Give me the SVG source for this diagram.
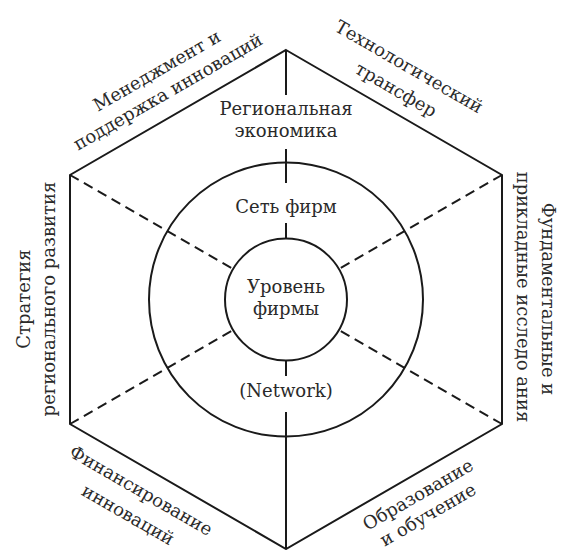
<svg xmlns="http://www.w3.org/2000/svg" width="561" height="550" viewBox="0 0 561 550">
<style>
.ln{stroke:#1a1a1a;stroke-width:2;fill:none}
.ds{stroke:#1a1a1a;stroke-width:2;fill:none;stroke-dasharray:10 6}
text{font-family:"DejaVu Serif","Liberation Serif",serif;font-size:18px;fill:#2a2a2a;text-anchor:middle}
</style>
<rect width="561" height="550" fill="#fff"/>
<g id="connectors">
<polygon class="ln" points="286,50 502,175 502,424 286,549 70,424 70,175"/>
<line class="ln" x1="286" y1="50" x2="286" y2="95"/>
<line class="ln" x1="286" y1="149" x2="286" y2="183"/>
<line class="ln" x1="286" y1="223" x2="286" y2="239"/>
<line class="ln" x1="286" y1="361" x2="286" y2="376"/>
<line class="ln" x1="286" y1="412" x2="286" y2="549"/>
<line class="ds" x1="70" y1="175" x2="233.2" y2="269"/>
<line class="ds" x1="502" y1="175" x2="338.8" y2="269"/>
<line class="ds" x1="70" y1="424" x2="233.2" y2="330"/>
<line class="ds" x1="502" y1="424" x2="338.8" y2="330"/>
</g>
<g id="outer-circle"><circle class="ln" cx="286" cy="299.5" r="137"/></g>
<g id="inner-circle"><circle class="ln" cx="286" cy="299.5" r="61"/></g>
<g id="regional-economy"><text x="286" y="115">Региональная</text><text x="286" y="137">экономика</text></g>
<g id="firm-network"><text x="286" y="213">Сеть фирм</text></g>
<g id="firm-level"><text x="286" y="293">Уровень</text><text x="286" y="315">фирмы</text></g>
<g id="network"><text x="286" y="397">(Network)</text></g>
<g id="management"><text transform="translate(160,76) rotate(-30)">Менеджмент и</text><text transform="translate(171,97) rotate(-30)">поддержка инноваций</text></g>
<g id="tech-transfer"><text transform="translate(406,72) rotate(30)">Технологический</text><text transform="translate(393,95) rotate(30)">трансфер</text></g>
<g id="research"><text transform="translate(542,299) rotate(90)">Фундаментальные и</text><text transform="translate(517,297) rotate(90)">прикладные исследо ания</text></g>
<g id="education"><text transform="translate(421,500) rotate(-30)">Образование</text><text transform="translate(431,520) rotate(-30)">и обучение</text></g>
<g id="financing"><text transform="translate(138,496) rotate(30)">Финансирование</text><text transform="translate(125,520) rotate(30)">инноваций</text></g>
<g id="strategy"><text transform="translate(30,299) rotate(-90)">Стратегия</text><text transform="translate(55,299) rotate(-90)">регионального развития</text></g>
</svg>
